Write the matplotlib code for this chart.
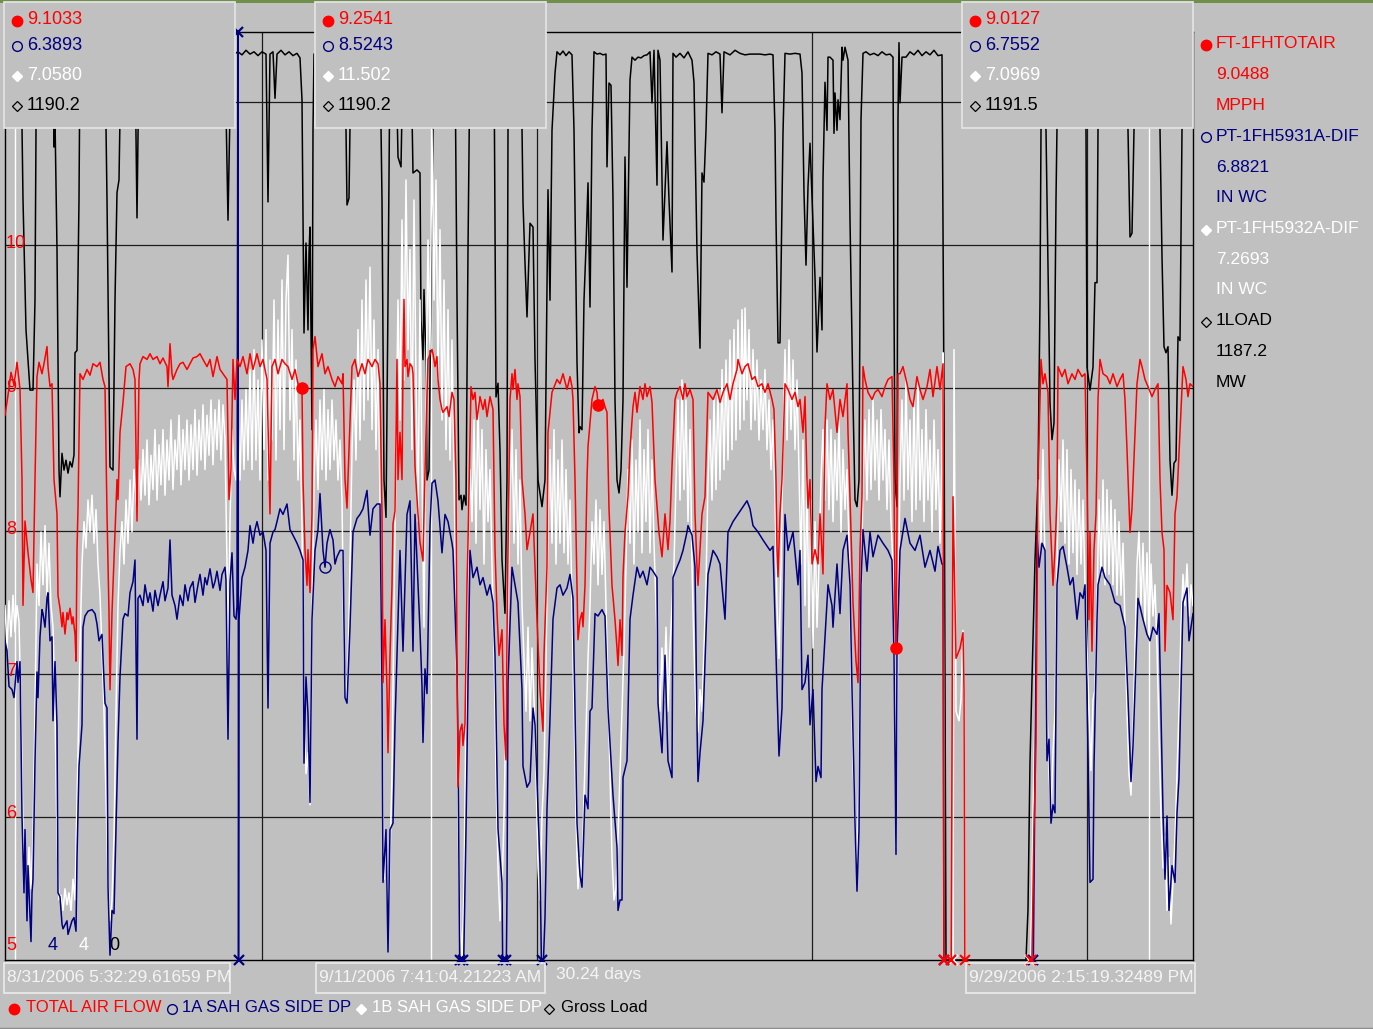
import numpy as np
import matplotlib
matplotlib.use("Agg")
import matplotlib.pyplot as plt
from matplotlib.patches import Rectangle

plt.rcParams['font.family'] = ['Liberation Sans', 'DejaVu Sans']

# trend window: 30.24 days shown as 1188 historian samples
SPAN_DAYS = 30.24
N_SAMPLES = 1188
SAMPLE_DAYS = SPAN_DAYS / N_SAMPLES

# pen scales (bottom values are the ones printed on the chart)
AIR_LIM = (5.0, 11.49)     # MPPH
DP_LIM = (4.0, 15.6)       # IN WC, both gas side DP pens
LOAD_LIM = (0.0, 1218.0)   # MW

# (sample, value) for each pen
air_pts = [
    (0, 8.81), (3, 8.95), (6, 9.11), (9, 9.02), (12, 9.18), (15, 8.99), (17, 8.36), (18, 7.48), (20, 8.07),
    (23, 7.85), (26, 7.66), (28, 7.57), (30, 8.36), (32, 9.08), (34, 9.18), (37, 9.10), (39, 9.17), (42, 9.29),
    (43, 9.15), (45, 9.01), (47, 9.03), (49, 8.36), (52, 8.12), (53, 7.55), (55, 7.46), (57, 7.33), (58, 7.43),
    (60, 7.28), (62, 7.43), (63, 7.38), (65, 7.46), (67, 7.35), (68, 7.40), (70, 7.28), (71, 7.09), (72, 7.87),
    (73, 8.16), (75, 9.10), (78, 9.06), (82, 9.13), (85, 9.09), (88, 9.17), (92, 9.15), (95, 9.18), (98, 9.06),
    (100, 9.01), (102, 8.12), (104, 7.43), (105, 6.89), (107, 7.43), (108, 7.62), (110, 7.99), (112, 8.36),
    (113, 8.22), (115, 8.69), (118, 8.90), (121, 9.15), (125, 9.17), (128, 9.13), (130, 9.06), (132, 8.07),
    (134, 9.06), (135, 9.17), (138, 9.22), (142, 9.20), (145, 9.24), (148, 9.20), (152, 9.22), (155, 9.17),
    (158, 9.21), (162, 9.15), (163, 9.01), (165, 9.31), (167, 9.10), (168, 9.06), (172, 9.13), (175, 9.17),
    (178, 9.18), (182, 9.13), (185, 9.17), (188, 9.21), (192, 9.22), (195, 9.24), (198, 9.20), (202, 9.15),
    (205, 9.20), (208, 9.08), (212, 9.22), (215, 9.13), (218, 9.10), (222, 9.06), (224, 8.22), (226, 8.43),
    (228, 9.20), (230, 8.92), (232, 9.20), (235, 9.15), (238, 9.22), (242, 9.10), (245, 9.24), (248, 9.13),
    (252, 9.24), (255, 9.15), (258, 9.20), (262, 9.06), (265, 8.12), (267, 9.15), (270, 9.20), (273, 9.10),
    (277, 9.20), (280, 9.17), (283, 9.15), (287, 9.06), (290, 9.13), (293, 9.03), (295, 8.99), (297, 9.00),
    (298, 8.36), (300, 7.87), (302, 7.62), (303, 7.87), (305, 7.57), (307, 8.12), (308, 9.27), (310, 9.36),
    (313, 9.15), (317, 9.24), (320, 9.10), (323, 9.15), (327, 9.06), (330, 9.01), (333, 9.08), (337, 9.03),
    (338, 9.10), (340, 8.36), (342, 8.16), (344, 8.57), (347, 9.15), (350, 9.20), (353, 9.08), (357, 9.17),
    (360, 9.10), (363, 9.20), (367, 9.15), (370, 9.20), (373, 9.17), (375, 9.03), (377, 8.12), (378, 6.94),
    (380, 7.38), (382, 6.89), (383, 6.45), (385, 7.13), (387, 7.62), (388, 8.05), (390, 8.14), (392, 9.20),
    (393, 8.36), (395, 8.69), (397, 8.36), (398, 9.15), (399, 9.62), (400, 9.15), (402, 9.20), (403, 9.08),
    (405, 9.17), (407, 9.15), (408, 9.10), (410, 8.45), (413, 8.12), (415, 7.92), (418, 7.79), (419, 8.12),
    (421, 8.69), (423, 9.20), (427, 9.27), (428, 9.24), (430, 9.15), (432, 9.22), (433, 9.06), (435, 8.92),
    (437, 8.85), (438, 8.83), (442, 8.87), (444, 8.80), (447, 8.97), (449, 8.92), (451, 8.36), (452, 7.04),
    (453, 6.21), (455, 6.60), (457, 6.65), (458, 6.50), (460, 6.65), (462, 7.62), (463, 7.92), (466, 9.01),
    (468, 8.92), (470, 8.97), (472, 8.78), (475, 8.94), (478, 8.85), (480, 8.92), (482, 8.80), (485, 8.94),
    (488, 8.85), (490, 7.87), (492, 7.43), (494, 7.13), (497, 7.31), (499, 6.65), (501, 6.40), (502, 7.26),
    (503, 7.87), (505, 8.92), (507, 9.10), (508, 8.99), (510, 9.13), (512, 8.92), (513, 9.03), (515, 8.94),
    (517, 8.36), (520, 8.12), (522, 7.87), (525, 7.99), (528, 8.12), (532, 7.38), (535, 6.89), (538, 6.60),
    (539, 7.13), (542, 7.75), (543, 8.69), (547, 8.97), (552, 9.06), (555, 9.03), (558, 9.10), (562, 8.99),
    (565, 9.08), (567, 9.01), (568, 8.92), (570, 8.36), (572, 7.62), (573, 7.24), (575, 7.38), (577, 7.43),
    (578, 7.33), (580, 7.62), (582, 8.36), (583, 8.59), (587, 8.92), (590, 9.01), (592, 8.97), (593, 8.88),
    (595, 8.90), (598, 8.92), (600, 8.87), (602, 8.83), (604, 8.16), (607, 7.62), (610, 7.38), (612, 7.18),
    (613, 7.06), (615, 7.38), (617, 7.13), (618, 7.68), (620, 7.99), (623, 8.24), (625, 8.57), (628, 8.87),
    (630, 8.97), (632, 8.83), (635, 9.01), (638, 8.92), (640, 9.03), (642, 8.94), (645, 9.01), (647, 8.90),
    (650, 8.36), (654, 7.99), (657, 7.82), (660, 8.12), (663, 7.87), (665, 8.07), (667, 8.45), (670, 8.92),
    (672, 8.97), (675, 9.01), (678, 8.92), (680, 9.03), (682, 8.94), (685, 8.99), (688, 8.92), (690, 8.12),
    (692, 7.75), (693, 7.62), (695, 7.87), (697, 8.12), (700, 8.24), (703, 8.97), (708, 8.92), (712, 8.99),
    (715, 8.90), (718, 8.97), (722, 9.03), (725, 8.92), (728, 9.03), (732, 9.13), (733, 9.20), (737, 9.10),
    (740, 9.15), (743, 9.17), (747, 9.06), (750, 9.08), (753, 9.01), (757, 9.03), (760, 8.97), (763, 9.03),
    (767, 8.92), (769, 8.85), (771, 8.36), (772, 7.87), (773, 7.68), (775, 8.12), (777, 8.36), (780, 9.03),
    (783, 8.99), (787, 8.92), (790, 8.97), (793, 8.87), (795, 8.92), (798, 8.69), (800, 8.94), (802, 8.36),
    (803, 8.16), (805, 8.36), (807, 7.77), (810, 7.87), (813, 7.77), (815, 8.12), (818, 7.70), (820, 8.73),
    (822, 9.03), (825, 8.92), (828, 8.99), (832, 8.69), (835, 8.92), (838, 8.80), (842, 9.03), (843, 8.69),
    (845, 8.24), (848, 7.50), (851, 7.09), (853, 6.94), (855, 7.87), (857, 8.24), (858, 9.15), (860, 9.06),
    (863, 8.97), (867, 8.92), (870, 8.97), (873, 8.99), (877, 8.94), (880, 9.01), (883, 9.06), (887, 9.08),
    (889, 8.36), (890, 7.46), (891, 7.18), (892, 8.07), (893, 9.10), (895, 9.10), (898, 9.15), (902, 9.03),
    (905, 8.92), (908, 8.87), (912, 9.08), (915, 8.99), (918, 8.92), (922, 9.01), (925, 9.13), (928, 8.94),
    (932, 9.15), (935, 8.99), (938, 9.17), (939, 4.6), (946, 4.6), (948, 8.24), (951, 7.11), (955, 7.18),
    (958, 7.29), (959, 6.89), (960, 4.6), (1026, 4.6), (1029, 5.91), (1031, 6.52), (1033, 8.36), (1036, 9.20),
    (1038, 9.03), (1040, 9.10), (1042, 9.01), (1043, 8.97), (1045, 8.12), (1048, 7.62), (1050, 7.87),
    (1052, 8.24), (1053, 9.15), (1057, 9.08), (1060, 9.13), (1063, 9.03), (1067, 9.10), (1070, 9.06),
    (1073, 9.13), (1077, 9.08), (1080, 9.10), (1082, 8.36), (1084, 7.38), (1085, 7.99), (1087, 7.16),
    (1089, 7.87), (1091, 8.12), (1093, 8.92), (1095, 9.20), (1098, 9.10), (1102, 9.08), (1105, 9.03),
    (1108, 9.10), (1112, 9.01), (1115, 9.06), (1118, 9.10), (1120, 8.92), (1122, 8.57), (1125, 7.99),
    (1127, 8.16), (1130, 8.69), (1132, 9.03), (1135, 9.20), (1137, 9.15), (1140, 9.06), (1143, 9.01),
    (1147, 8.94), (1150, 8.99), (1153, 9.03), (1155, 8.36), (1157, 7.99), (1159, 7.87), (1160, 7.16),
    (1162, 7.62), (1165, 7.57), (1168, 7.38), (1170, 8.12), (1172, 8.24), (1175, 8.69), (1178, 9.15),
    (1181, 9.06), (1183, 8.94), (1185, 9.03), (1188, 9.01),
]

dp_a_pts = [
    (0, 7.99), (2, 7.86), (4, 7.42), (7, 7.38), (9, 7.28), (12, 7.73), (13, 7.47), (15, 7.73), (17, 5.80),
    (19, 4.84), (20, 5.63), (22, 4.49), (23, 5.18), (26, 4.23), (27, 4.84), (28, 5.01), (30, 6.49), (32, 7.60),
    (33, 7.28), (35, 8.04), (37, 8.38), (38, 8.33), (40, 8.16), (42, 8.52), (43, 8.59), (45, 7.99), (47, 8.04),
    (48, 6.99), (50, 7.73), (52, 6.94), (53, 4.84), (55, 4.79), (57, 4.45), (58, 4.39), (62, 4.49), (63, 4.32),
    (67, 4.49), (69, 4.53), (71, 4.36), (72, 5.28), (74, 6.42), (77, 6.94), (78, 8.16), (80, 8.30), (83, 8.36),
    (87, 8.38), (90, 8.33), (92, 8.20), (94, 7.99), (97, 8.07), (100, 7.21), (102, 7.15), (103, 4.92),
    (105, 4.06), (107, 4.62), (109, 4.58), (112, 6.16), (113, 6.72), (115, 7.54), (118, 8.26), (120, 8.33),
    (123, 8.30), (125, 8.59), (128, 8.73), (130, 9.00), (132, 6.76), (133, 8.52), (135, 8.56), (138, 8.43),
    (140, 8.69), (143, 8.47), (145, 8.59), (148, 8.36), (150, 8.62), (153, 8.43), (155, 8.56), (158, 8.73),
    (160, 8.49), (163, 8.65), (165, 9.25), (167, 8.56), (170, 8.43), (172, 8.26), (175, 8.56), (178, 8.43),
    (180, 8.69), (183, 8.49), (185, 8.65), (188, 8.73), (190, 8.47), (193, 8.69), (195, 8.82), (198, 8.56),
    (200, 8.78), (202, 8.69), (205, 8.89), (208, 8.65), (210, 8.73), (212, 8.86), (215, 8.62), (217, 8.82),
    (220, 8.91), (221, 8.75), (222, 7.73), (223, 6.76), (225, 8.73), (227, 9.09), (229, 8.30), (231, 8.26),
    (232, 8.43), (233, 17.0), (233.5, 3.5), (234, 8.26), (237, 8.78), (240, 8.91), (243, 9.12), (245, 9.43),
    (248, 9.21), (250, 9.38), (252, 9.48), (255, 9.31), (258, 9.35), (261, 9.12), (263, 7.15), (265, 9.21),
    (268, 9.35), (270, 9.38), (272, 9.48), (275, 9.64), (278, 9.57), (282, 9.70), (285, 9.38), (288, 9.31),
    (292, 9.21), (295, 9.12), (298, 9.00), (299, 6.46), (301, 7.54), (303, 7.07), (305, 5.97), (307, 8.26),
    (310, 9.12), (313, 9.38), (315, 9.83), (318, 9.12), (320, 8.91), (322, 9.21), (325, 9.38), (328, 9.25),
    (330, 8.95), (332, 9.04), (335, 9.12), (338, 9.12), (340, 7.28), (342, 7.21), (345, 8.16), (348, 9.35),
    (352, 9.52), (355, 9.57), (358, 9.64), (362, 9.87), (365, 9.31), (368, 9.64), (372, 9.70), (375, 9.70),
    (377, 7.38), (378, 4.97), (381, 5.63), (383, 4.10), (385, 5.63), (388, 5.71), (390, 6.94), (393, 8.26),
    (395, 9.12), (398, 7.86), (402, 9.57), (405, 9.74), (408, 7.86), (410, 9.57), (415, 8.12), (417, 7.42),
    (418, 6.72), (420, 7.64), (422, 7.33), (425, 9.43), (427, 9.96), (430, 10.00), (433, 9.74), (437, 9.09),
    (440, 9.57), (443, 9.48), (447, 9.21), (448, 9.12), (452, 7.64), (453, 6.68), (455, 3.5), (458, 3.5),
    (461, 5.63), (463, 7.47), (465, 9.12), (468, 8.78), (472, 8.91), (475, 8.69), (478, 8.78), (482, 8.56),
    (485, 8.69), (488, 8.47), (490, 7.81), (493, 5.63), (497, 4.97), (498, 3.5), (501, 3.5), (502, 4.84),
    (503, 7.47), (507, 8.91), (510, 8.69), (513, 8.47), (517, 7.38), (518, 6.42), (522, 6.16), (525, 6.23),
    (528, 7.15), (530, 6.94), (535, 5.18), (537, 3.5), (540, 4.53), (542, 5.89), (545, 7.02), (548, 8.26),
    (552, 8.65), (555, 8.69), (558, 8.56), (562, 8.65), (565, 8.82), (568, 8.52), (570, 7.15), (572, 5.71),
    (575, 5.06), (577, 4.91), (580, 6.06), (583, 5.89), (585, 7.11), (587, 7.15), (590, 8.33), (593, 8.30),
    (597, 8.38), (600, 8.30), (603, 7.15), (608, 6.06), (612, 5.41), (613, 4.62), (615, 4.75), (617, 4.75),
    (618, 6.28), (622, 6.49), (625, 8.26), (628, 8.56), (632, 8.91), (635, 8.78), (638, 8.86), (642, 8.69),
    (645, 8.91), (648, 8.86), (652, 8.78), (653, 7.21), (657, 6.59), (660, 7.81), (663, 6.49), (667, 6.28),
    (668, 8.78), (672, 8.91), (675, 9.00), (678, 9.12), (682, 9.35), (683, 9.43), (687, 9.31), (690, 8.91),
    (692, 6.94), (693, 6.23), (695, 6.59), (698, 6.99), (703, 8.82), (708, 9.12), (712, 9.04), (715, 8.95),
    (720, 8.26), (723, 9.35), (728, 9.48), (735, 9.61), (742, 9.74), (745, 9.64), (748, 9.43), (753, 9.35),
    (758, 9.25), (765, 9.12), (768, 9.17), (772, 7.38), (774, 6.55), (777, 7.15), (780, 9.57), (783, 9.12),
    (788, 9.35), (793, 8.69), (795, 9.12), (797, 7.38), (800, 7.47), (803, 7.81), (805, 6.94), (808, 7.38),
    (811, 6.23), (813, 6.42), (816, 6.28), (817, 7.38), (820, 8.04), (823, 8.69), (827, 8.43), (828, 8.16),
    (832, 8.95), (835, 8.33), (838, 9.12), (842, 9.31), (845, 8.69), (847, 7.38), (850, 5.71), (852, 4.86),
    (854, 5.63), (856, 8.69), (858, 9.38), (862, 8.86), (865, 9.35), (868, 9.04), (873, 9.31), (878, 9.21),
    (883, 9.12), (887, 9.00), (889, 7.81), (891, 5.32), (892, 7.81), (894, 8.69), (895, 9.12), (900, 9.52),
    (905, 9.21), (910, 9.12), (915, 9.31), (920, 8.91), (925, 9.12), (930, 8.86), (933, 9.17), (937, 8.95),
    (938, 8.95), (939, 3.5), (1028, 3.5), (1032, 9.31), (1034, 8.91), (1037, 9.21), (1040, 9.12), (1042, 6.49),
    (1044, 6.76), (1046, 5.71), (1048, 5.94), (1050, 5.84), (1052, 8.69), (1055, 9.12), (1058, 9.17),
    (1062, 8.91), (1065, 8.69), (1068, 8.78), (1072, 8.26), (1075, 8.59), (1078, 8.52), (1080, 8.69),
    (1083, 6.59), (1085, 4.97), (1088, 5.01), (1089, 6.42), (1092, 8.26), (1093, 8.69), (1097, 8.91),
    (1100, 8.78), (1105, 8.69), (1110, 8.47), (1115, 8.43), (1120, 8.16), (1123, 7.28), (1126, 6.23),
    (1128, 6.68), (1130, 7.38), (1133, 8.52), (1138, 8.26), (1142, 8.07), (1145, 7.99), (1148, 8.16),
    (1152, 8.07), (1154, 8.33), (1158, 5.84), (1160, 5.01), (1162, 5.80), (1164, 4.62), (1167, 5.18),
    (1170, 4.97), (1172, 5.84), (1174, 6.28), (1178, 8.47), (1182, 8.65), (1184, 7.99), (1188, 8.33),
]

dp_b_pts = [
    (0, 8.43), (2, 7.90), (4, 8.49), (6, 8.04), (8, 8.56), (10, 8.10), (12, 8.43), (14, 8.23), (16, 7.11),
    (18, 5.63), (20, 5.01), (22, 4.75), (24, 5.41), (26, 4.89), (28, 5.54), (30, 7.11), (32, 8.95), (34, 8.43),
    (36, 9.35), (38, 8.69), (40, 9.43), (42, 8.56), (44, 9.21), (46, 8.43), (48, 8.16), (50, 7.11), (52, 5.54),
    (54, 4.75), (56, 4.81), (58, 4.62), (60, 4.89), (62, 4.69), (64, 4.84), (66, 4.62), (68, 5.01), (70, 4.75),
    (71, 5.41), (73, 6.59), (75, 7.90), (77, 8.95), (79, 9.48), (81, 9.15), (83, 9.75), (85, 9.35), (87, 9.81),
    (89, 9.21), (91, 9.63), (93, 8.95), (95, 8.56), (97, 7.90), (99, 7.11), (101, 6.06), (103, 4.97),
    (105, 4.49), (107, 4.75), (109, 5.54), (111, 7.11), (113, 8.43), (115, 9.12), (117, 9.48), (119, 8.95),
    (121, 9.75), (123, 9.21), (125, 10.00), (127, 9.35), (129, 10.13), (132, 9.63), (134, 10.25), (136, 9.75),
    (138, 10.38), (140, 9.81), (142, 10.50), (144, 9.69), (146, 10.31), (148, 9.88), (150, 10.63),
    (152, 9.75), (154, 10.44), (156, 9.94), (158, 10.63), (160, 9.81), (162, 10.50), (164, 10.00),
    (166, 10.75), (168, 9.88), (170, 10.50), (172, 10.13), (174, 10.81), (176, 9.94), (178, 10.63),
    (180, 10.13), (182, 10.75), (184, 10.00), (186, 10.69), (188, 10.13), (190, 10.88), (192, 10.06),
    (194, 10.75), (196, 10.25), (198, 10.94), (200, 10.13), (202, 10.81), (204, 10.31), (206, 11.00),
    (208, 10.19), (210, 10.88), (212, 10.38), (214, 11.00), (216, 10.25), (218, 10.94), (220, 10.50),
    (222, 8.95), (223, 7.64), (225, 9.48), (227, 10.63), (229, 10.13), (231, 10.00), (233, 10.75),
    (235, 10.00), (237, 11.00), (239, 10.13), (241, 11.13), (243, 10.25), (245, 11.38), (247, 10.13),
    (249, 11.63), (251, 10.25), (253, 11.25), (255, 10.00), (257, 11.75), (259, 10.38), (261, 11.88),
    (263, 10.00), (265, 11.50), (267, 10.50), (269, 12.25), (271, 10.25), (273, 12.00), (275, 10.63),
    (277, 12.50), (279, 10.38), (281, 12.25), (283, 12.81), (285, 10.75), (287, 11.88), (289, 10.25),
    (291, 11.50), (293, 10.00), (295, 10.75), (297, 9.48), (299, 7.11), (301, 6.33), (303, 6.59), (305, 5.94),
    (307, 8.16), (309, 10.00), (311, 10.75), (313, 9.88), (315, 11.00), (317, 10.13), (319, 11.13),
    (321, 10.00), (323, 10.88), (325, 10.13), (327, 11.00), (329, 10.25), (331, 10.75), (333, 10.00),
    (335, 10.50), (337, 9.75), (339, 7.77), (341, 7.25), (343, 7.64), (345, 8.95), (347, 10.38), (349, 11.25),
    (351, 10.25), (353, 11.88), (355, 10.50), (357, 12.25), (359, 10.75), (361, 12.50), (363, 11.00),
    (365, 12.66), (367, 10.63), (369, 12.00), (371, 10.38), (373, 11.63), (375, 9.75), (377, 7.11),
    (379, 5.01), (381, 5.54), (383, 4.49), (385, 5.28), (387, 6.33), (389, 8.43), (391, 10.38), (393, 12.25),
    (395, 10.75), (397, 13.25), (399, 11.25), (401, 13.75), (403, 11.63), (405, 12.88), (407, 10.38),
    (409, 13.50), (411, 11.25), (413, 9.48), (415, 12.25), (417, 10.13), (419, 8.16), (421, 11.00),
    (423, 13.00), (425, 11.63), (427, 14.38), (429, 12.25), (431, 13.75), (433, 11.25), (435, 13.13),
    (437, 10.75), (439, 12.50), (441, 10.38), (443, 12.13), (445, 10.25), (447, 11.75), (449, 10.13),
    (451, 8.43), (453, 5.80), (455, 4.49), (457, 4.03), (459, 4.89), (461, 7.11), (463, 8.95), (465, 10.13),
    (467, 9.48), (469, 10.75), (471, 9.21), (473, 11.00), (475, 9.63), (477, 10.63), (479, 8.95), (481, 10.38),
    (483, 9.48), (485, 10.13), (487, 8.95), (489, 7.90), (491, 6.33), (493, 5.15), (495, 4.49), (497, 4.89),
    (499, 5.80), (501, 7.11), (503, 8.43), (505, 9.75), (507, 10.63), (509, 9.21), (511, 10.38), (513, 8.95),
    (515, 10.00), (517, 8.43), (519, 7.77), (521, 7.11), (523, 8.16), (525, 6.99), (527, 7.90), (529, 7.25),
    (531, 6.33), (533, 5.15), (535, 4.75), (537, 5.80), (539, 6.33), (541, 7.77), (543, 9.48), (545, 10.38),
    (547, 9.21), (549, 10.63), (551, 8.95), (553, 10.25), (555, 9.21), (557, 10.50), (559, 9.09), (561, 10.13),
    (563, 8.95), (565, 9.75), (567, 8.43), (569, 7.11), (571, 5.80), (573, 4.89), (575, 5.28), (577, 5.01),
    (579, 6.06), (581, 6.85), (583, 7.77), (585, 8.43), (587, 9.48), (589, 8.95), (591, 9.75), (593, 8.69),
    (595, 9.63), (597, 8.82), (599, 9.48), (601, 8.43), (603, 7.38), (605, 6.33), (607, 5.28), (609, 4.75),
    (611, 4.89), (613, 5.54), (615, 6.33), (617, 7.11), (619, 7.90), (621, 8.95), (623, 10.13), (625, 9.21),
    (627, 10.50), (629, 8.95), (631, 10.25), (633, 9.35), (635, 10.75), (637, 9.09), (639, 10.38), (641, 9.48),
    (643, 10.63), (645, 9.09), (647, 10.25), (649, 9.21), (651, 8.43), (653, 7.64), (655, 7.11), (657, 7.90),
    (659, 7.25), (661, 8.16), (663, 7.11), (665, 7.90), (667, 8.43), (669, 8.95), (671, 10.00), (673, 11.00),
    (675, 9.75), (677, 11.25), (679, 9.88), (681, 11.00), (683, 9.48), (685, 10.63), (687, 8.95), (689, 7.90),
    (691, 7.11), (693, 6.85), (695, 7.38), (697, 7.11), (699, 7.90), (701, 8.69), (703, 10.00), (705, 10.75),
    (707, 9.75), (709, 11.00), (711, 9.88), (713, 11.13), (715, 10.00), (717, 11.38), (719, 10.13),
    (721, 11.50), (723, 10.25), (725, 11.75), (727, 10.38), (729, 11.88), (731, 10.50), (733, 12.00),
    (735, 10.63), (737, 12.13), (739, 10.75), (740, 12.15), (742, 11.00), (744, 11.88), (746, 10.63),
    (748, 11.63), (750, 10.75), (752, 11.50), (754, 10.50), (756, 11.25), (758, 10.63), (760, 11.38),
    (762, 10.38), (764, 11.00), (766, 10.13), (768, 10.75), (770, 9.75), (772, 8.43), (774, 7.77), (776, 8.95),
    (778, 10.38), (780, 11.63), (782, 10.50), (784, 11.75), (786, 10.63), (788, 11.50), (790, 10.38),
    (792, 11.25), (794, 10.13), (796, 8.95), (798, 10.50), (800, 8.43), (802, 10.00), (804, 8.16), (806, 9.75),
    (808, 7.90), (810, 9.48), (812, 8.16), (814, 8.95), (816, 10.00), (818, 10.63), (820, 9.75), (822, 10.75),
    (824, 9.63), (826, 10.63), (828, 9.48), (830, 10.50), (832, 9.75), (834, 10.75), (836, 9.35), (838, 10.38),
    (840, 9.63), (842, 10.13), (844, 9.21), (846, 7.77), (848, 6.46), (850, 5.80), (852, 5.01), (854, 6.33),
    (856, 8.43), (858, 10.00), (860, 10.75), (862, 9.75), (864, 10.88), (866, 9.88), (868, 11.00), (870, 10.00),
    (872, 10.75), (874, 9.75), (876, 10.88), (878, 10.00), (880, 10.63), (882, 9.63), (884, 10.50), (886, 9.48),
    (888, 8.95), (890, 7.11), (891, 5.41), (893, 8.43), (895, 10.00), (897, 11.00), (899, 9.75), (901, 11.25),
    (903, 9.88), (905, 10.75), (907, 9.48), (909, 11.00), (911, 9.63), (913, 11.25), (915, 9.75), (917, 10.63),
    (919, 9.48), (921, 10.88), (923, 9.75), (925, 10.50), (927, 9.35), (929, 10.75), (931, 9.63), (933, 10.38),
    (935, 9.21), (937, 10.25), (938, 11.59), (939, 3.5), (948, 3.5), (949, 11.63), (951, 7.11), (954, 6.99),
    (956, 7.25), (958, 8.12), (959, 6.99), (960, 3.5), (1025, 3.5), (1028, 5.80), (1030, 7.11), (1032, 8.95),
    (1034, 10.00), (1036, 9.21), (1038, 10.38), (1040, 8.95), (1042, 7.11), (1044, 6.33), (1046, 5.84),
    (1048, 6.59), (1050, 7.11), (1052, 8.95), (1054, 10.25), (1056, 9.48), (1058, 10.50), (1060, 9.21),
    (1062, 10.38), (1064, 8.95), (1066, 10.13), (1068, 9.09), (1070, 10.00), (1072, 8.82), (1074, 9.88),
    (1076, 8.95), (1078, 9.75), (1080, 8.69), (1082, 7.90), (1084, 7.11), (1086, 6.37), (1088, 7.25),
    (1090, 7.38), (1092, 8.43), (1094, 9.75), (1096, 8.82), (1098, 10.00), (1100, 8.69), (1102, 9.88),
    (1104, 8.82), (1106, 9.75), (1108, 8.69), (1110, 9.63), (1112, 8.56), (1114, 9.48), (1116, 8.56),
    (1118, 9.21), (1120, 8.16), (1122, 7.11), (1124, 6.33), (1126, 6.06), (1128, 6.85), (1130, 7.90),
    (1132, 8.95), (1134, 9.35), (1136, 8.43), (1138, 9.21), (1140, 8.16), (1142, 9.09), (1144, 8.04),
    (1146, 8.95), (1148, 8.30), (1150, 8.69), (1152, 7.90), (1154, 6.85), (1156, 5.80), (1158, 5.15),
    (1160, 5.54), (1162, 4.62), (1164, 5.28), (1166, 4.45), (1168, 5.01), (1170, 5.54), (1172, 6.33),
    (1174, 7.11), (1176, 8.16), (1178, 8.82), (1180, 8.43), (1182, 8.95), (1184, 8.30), (1186, 8.69),
    (1188, 8.43),
]

load_pts = [
    (0, 1189), (16, 1189), (18, 998), (21, 827), (23, 788), (25, 748), (28, 748), (30, 866), (31, 1089),
    (32, 1189), (47, 1189), (48, 1189), (49, 1067), (50, 1103), (52, 932), (54, 643), (55, 608), (57, 665),
    (59, 643), (61, 656), (63, 639), (65, 654), (67, 647), (69, 663), (70, 797), (72, 800), (74, 998),
    (75, 1189), (100, 1189), (102, 998), (105, 647), (108, 643), (110, 866), (112, 1007), (114, 1024),
    (116, 1189), (130, 1189), (132, 974), (134, 1189), (220, 1189), (223, 971), (226, 1189), (229, 1189),
    (233, 1192), (237, 1188), (241, 1194), (245, 1189), (249, 1192), (253, 1187), (257, 1192), (261, 1189),
    (263, 995), (265, 1189), (268, 1192), (270, 1131), (272, 1189), (276, 1194), (280, 1188), (284, 1192),
    (288, 1187), (292, 1190), (295, 1184), (297, 1129), (299, 823), (301, 941), (303, 827), (304, 928),
    (305, 962), (307, 696), (308, 1089), (309, 1189), (340, 1189), (342, 991), (344, 1000), (346, 1189),
    (375, 1189), (377, 998), (379, 630), (381, 581), (383, 866), (385, 1189), (391, 1189), (393, 1054),
    (396, 1041), (398, 1189), (406, 1189), (408, 1033), (412, 1037), (415, 1033), (416, 840), (418, 788),
    (419, 880), (421, 784), (422, 630), (424, 643), (427, 998), (429, 1189), (450, 1189), (452, 866),
    (454, 604), (456, 610), (457, 591), (459, 610), (461, 597), (463, 932), (465, 1189), (489, 1189),
    (491, 739), (493, 757), (495, 669), (497, 525), (500, 455), (502, 630), (503, 1089), (505, 1189),
    (516, 1189), (518, 994), (520, 915), (522, 844), (525, 967), (528, 962), (530, 788), (533, 630),
    (537, 595), (540, 630), (543, 1011), (545, 866), (547, 1089), (550, 1164), (552, 1192), (555, 1188),
    (558, 1193), (561, 1187), (564, 1192), (567, 1188), (569, 1089), (572, 784), (574, 692), (575, 700),
    (577, 696), (579, 866), (581, 936), (583, 1020), (585, 857), (587, 1089), (589, 1192), (592, 1189),
    (595, 1190), (598, 1188), (601, 1189), (602, 1041), (604, 1151), (606, 1148), (608, 998), (610, 735),
    (612, 630), (614, 613), (616, 643), (618, 735), (620, 1054), (622, 883), (625, 1155), (627, 1185),
    (630, 1181), (633, 1185), (636, 1184), (639, 1187), (642, 1188), (645, 1192), (647, 1125), (649, 1194),
    (652, 1017), (653, 1194), (655, 1181), (658, 945), (662, 1074), (664, 998), (667, 903), (668, 1190),
    (671, 1185), (675, 1190), (679, 1184), (683, 1192), (687, 1181), (689, 1152), (691, 998), (692, 929),
    (695, 803), (697, 1033), (699, 1021), (701, 1089), (703, 1190), (707, 1188), (711, 1192), (715, 1189),
    (717, 1112), (719, 1192), (725, 1188), (730, 1194), (735, 1190), (740, 1188), (745, 1189), (750, 1189),
    (755, 1189), (760, 1188), (765, 1189), (768, 1188), (770, 1089), (771, 971), (773, 810), (775, 810),
    (777, 988), (778, 1085), (780, 1190), (785, 1189), (790, 1190), (795, 1189), (797, 1164), (799, 1007),
    (801, 912), (803, 1015), (805, 1072), (807, 1000), (810, 896), (812, 798), (815, 896), (817, 827),
    (818, 1024), (820, 1152), (822, 1089), (823, 1185), (825, 1185), (828, 1181), (829, 1085), (830, 1138),
    (832, 1089), (833, 1129), (835, 1103), (837, 1198), (838, 1181), (840, 1198), (843, 1181), (845, 971),
    (848, 735), (850, 604), (852, 595), (854, 630), (856, 1103), (858, 1190), (861, 1192), (865, 1188),
    (869, 1190), (873, 1187), (877, 1192), (881, 1188), (885, 1189), (888, 1185), (889, 866), (890, 630),
    (892, 595), (893, 1106), (894, 1204), (895, 1125), (897, 1185), (901, 1185), (905, 1192), (909, 1188),
    (913, 1194), (917, 1187), (921, 1192), (925, 1188), (929, 1194), (933, 1187), (937, 1188), (939, 735),
    (941, 0), (1021, 0), (1023, 66), (1025, 259), (1027, 368), (1030, 525), (1033, 630), (1035, 866),
    (1036, 1089), (1037, 1189), (1040, 1189), (1041, 1089), (1043, 910), (1045, 731), (1047, 683),
    (1049, 705), (1051, 998), (1052, 1089), (1053, 1189), (1079, 1189), (1081, 1089), (1082, 778),
    (1085, 748), (1088, 778), (1090, 889), (1092, 889), (1093, 1089), (1094, 1189), (1122, 1189),
    (1123, 1089), (1125, 949), (1127, 954), (1129, 1089), (1130, 1189), (1154, 1189), (1155, 1089),
    (1157, 923), (1159, 805), (1161, 797), (1163, 805), (1165, 656), (1167, 610), (1169, 652), (1171, 656),
    (1173, 818), (1175, 813), (1176, 954), (1177, 1089), (1178, 1189), (1183, 1189), (1188, 1189),
]

# trace cursor marks drawn on the pens
air_mark_t = [297, 593, 891]
air_mark_v = [9.00, 8.88, 7.18]
dpa_mark_t = [320]
dpa_mark_v = [8.91]

# white cursor lines (sample positions)
cursor_samples = [10, 426, 1144]

# cursor readout boxes: air, dp A, dp B, load
readouts = [
    ["9.1033", "6.3893", "7.0580", "1190.2"],
    ["9.2541", "8.5243", "11.502", "1190.2"],
    ["9.0127", "6.7552", "7.0969", "1191.5"],
]

# right side pen list
pen_tags = ["FT-1FHTOTAIR", "PT-1FH5931A-DIF", "PT-1FH5932A-DIF", "1LOAD"]
pen_now = ["9.0488", "6.8821", "7.2693", "1187.2"]
pen_units = ["MPPH", "IN WC", "IN WC", "MW"]
pen_names = ["TOTAL AIR FLOW", "1A SAH GAS SIDE DP", "1B SAH GAS SIDE DP", "Gross Load"]

start_label = "8/31/2006 5:32:29.61659 PM"
cursor_label = "9/11/2006 7:41:04.21223 AM"
span_label = "30.24 days"
end_label = "9/29/2006 2:15:19.32489 PM"

BG = "#c0c0c0"
RED = "#ff0000"
NAVY = "#000080"
WHT = "#ffffff"
BLK = "#000000"
TXT_W = "#f4f4f4"

W, H = 1373, 1029
fig = plt.figure(figsize=(W / 100, H / 100), dpi=100, facecolor=BG)
rect = [5 / W, (H - 960) / H, 1188 / W, 928 / H]

base = fig.add_axes(rect, label="base")
base.set_facecolor(BG)
base.set_xlim(0, SPAN_DAYS)
base.set_ylim(*AIR_LIM)
base.set_xticks([])
base.set_yticks([])
for sp in base.spines.values():
    sp.set_color(BLK)
    sp.set_linewidth(1.0)
for v in range(6, 12):
    base.axhline(v, color="#1c1c1c", lw=0.9)
for d in np.arange(6.54, SPAN_DAYS, 7.0):
    base.axvline(d, color="#1c1c1c", lw=0.9)
for s in cursor_samples:
    base.axvline(s * SAMPLE_DAYS, color=WHT, lw=1.0)


def pen(pts, lim, color, z, name):
    a = fig.add_axes(rect, label=name, sharex=base)
    a.set_ylim(*lim)
    a.axis("off")
    a.set_zorder(z)
    t, v = np.array(pts, dtype=float).T
    a.plot(t * SAMPLE_DAYS, v, color=color, lw=1.1)
    lo, hi = lim
    for mask, edge in ((v < lo, lo), (v > hi, hi)):
        if mask.any():
            a.plot(t[mask] * SAMPLE_DAYS, np.full(mask.sum(), edge), ls="none", marker="x",
                   ms=7, mew=1.6, color=color, clip_on=False)
    return a


ax_load = pen(load_pts, LOAD_LIM, BLK, 1, "load")
ax_b = pen(dp_b_pts, DP_LIM, WHT, 2, "dpb")
ax_a = pen(dp_a_pts, DP_LIM, NAVY, 3, "dpa")
ax_air = pen(air_pts, AIR_LIM, RED, 4, "air")
ax_air.plot(np.array(air_mark_t) * SAMPLE_DAYS, air_mark_v, ls="none", marker="o", ms=8, color=RED)
ax_a.plot(np.array(dpa_mark_t) * SAMPLE_DAYS, dpa_mark_v, ls="none", marker="o", ms=8,
          mfc="none", mec=NAVY, mew=1.0)

# overlay in pixel units for the readout boxes and labels
ov = fig.add_axes([0, 0, 1, 1], label="overlay")
ov.set_xlim(0, W)
ov.set_ylim(H, 0)
ov.axis("off")
ov.set_zorder(10)

ov.add_patch(Rectangle((0, 0), W, 2.5, color="#6f8f4a", lw=0))
ov.plot([0, W], [1027.5, 1027.5], color="#8c8c8c", lw=1.0)

pen_colors = [RED, NAVY, WHT, BLK]
pen_marks = [dict(marker="o", ms=7.5, mfc=RED, mec=RED),
             dict(marker="o", ms=7, mfc="none", mec=NAVY, mew=1.0),
             dict(marker="D", ms=5.5, mfc=WHT, mec=WHT),
             dict(marker="D", ms=5, mfc="none", mec=BLK, mew=0.9)]
row_y = [20, 45, 75, 105]

for bx, vals in zip([4, 315, 962], readouts):
    ov.add_patch(Rectangle((bx, 2), 231, 126, facecolor=BG, edgecolor="#e2e2e2", lw=1.3))
    for yy, col, mk, val in zip(row_y, pen_colors, pen_marks, vals):
        ov.plot(bx + 13, yy + 1, ls="none", **mk)
        ov.text(bx + 23, yy, val, color=col, fontsize=13, va="center", ha="left")

# right side pen list
for i, (tag, now, unit) in enumerate(zip(pen_tags, pen_now, pen_units)):
    y0 = 44 + i * 92.3
    col = pen_colors[i]
    ov.plot(1206, y0 + 1, ls="none", **pen_marks[i])
    for k, s in enumerate([tag, now, unit]):
        ov.text(1216, y0 + k * 30.7, s, color=col, fontsize=12.5, va="center", ha="left")

# left scale labels
for lab, yy in zip(["10", "9", "8", "7", "6"], [243, 388, 530, 672, 813]):
    ov.text(6, yy, lab, color=RED, fontsize=13, va="center", ha="left")
for lab, xx, col in zip(["5", "4", "4", "0"], [6, 48, 79, 109], pen_colors):
    ov.text(xx, 945, lab, color=col, fontsize=13, va="center", ha="left")

# time labels
for bx, bw, lab in [(4, 226, start_label), (316, 229, cursor_label), (966, 229, end_label)]:
    ov.add_patch(Rectangle((bx, 963), bw, 30, facecolor="none", edgecolor="#ececec", lw=1.2))
    ov.text(bx + 3, 978, lab, color=TXT_W, fontsize=12.5, va="center", ha="left")
ov.text(556, 975, span_label, color=TXT_W, fontsize=12.5, va="center", ha="left")

# bottom pen legend
for name, col, mk, mx, tx in zip(pen_names, pen_colors, pen_marks, [14, 172, 361, 549], [26, 182, 372, 561]):
    ov.plot(mx, 1009, ls="none", **mk)
    ov.text(tx, 1008, name, color=col, fontsize=12, va="center", ha="left")

fig.savefig("out.png", dpi=100, facecolor=BG)
